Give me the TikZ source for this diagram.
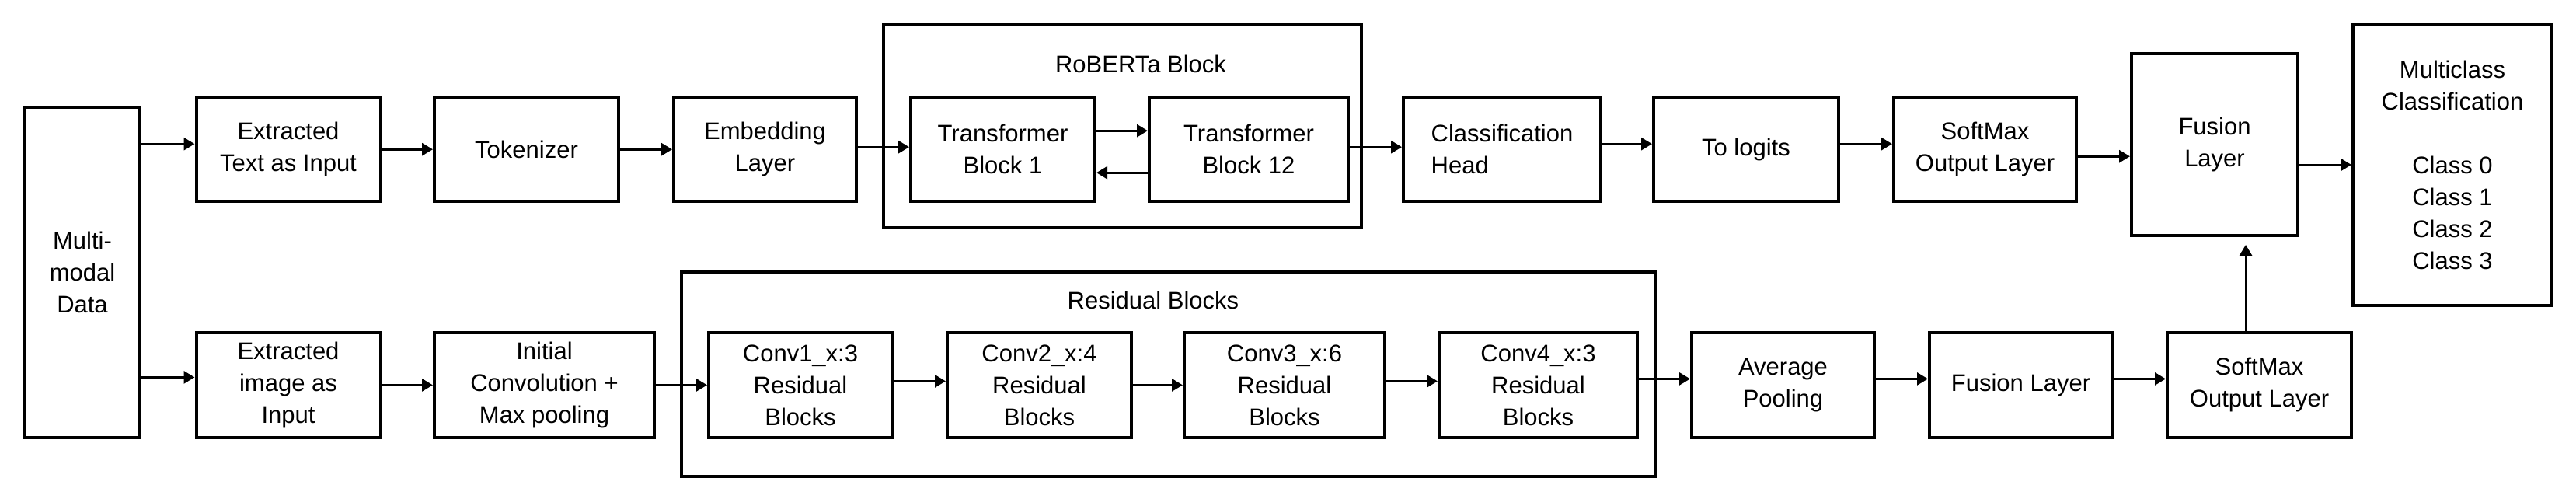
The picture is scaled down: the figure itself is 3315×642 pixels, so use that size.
\documentclass[tikz,border=0pt]{standalone}
\usepackage{fontspec}
\setmainfont{Liberation Sans}
\usetikzlibrary{arrows.meta}

\begin{document}
\begin{tikzpicture}
  [x=1pt, y=-1pt,
  box/.style={draw, line width=4pt, align=center, inner sep=0pt,
    minimum height=133pt, font=\fontsize{31}{41}\selectfont},
  group/.style={draw, line width=4pt, inner sep=0pt},
  lbl/.style={font=\fontsize{31}{41}\selectfont},
  arr/.style={-{Triangle[length=14pt,width=16pt]}, line width=3pt}]
  \useasboundingbox (0,0) rectangle (3315,642);
  % group frames
  \node[group, minimum width=615pt, minimum height=262pt] (roberta) at (1444,162) {};
  \node[lbl] (roblbl) at (1468,82) {RoBERTa Block};
  \node[group, minimum width=1253pt, minimum height=263pt] (resid) at (1503.5,481.5) {};
  \node[lbl] (reslbl) at (1484,386) {Residual Blocks};
  % input
  \node[box, minimum width=148pt, minimum height=425pt] (data) at (106,350.5) {Multi-\\modal\\Data};
  % text branch
  \node[box, minimum width=237pt] (txtin) at (371,192.2) {Extracted\\Text as Input};
  \node[box, minimum width=237pt] (tok) at (677.5,192.2) {Tokenizer};
  \node[box, minimum width=235pt] (emb) at (984.5,192.2) {Embedding\\Layer};
  \node[box, minimum width=237pt] (tb1) at (1290.5,192.2) {Transformer\\Block 1};
  \node[box, minimum width=256pt] (tb12) at (1607,192.2) {Transformer\\Block 12};
  \node[box, minimum width=254pt, align=left] (head) at (1933,192.2) {Classification\\Head};
  \node[box, minimum width=238pt] (logit) at (2247,192.2) {To logits};
  \node[box, minimum width=235pt] (smtxt) at (2554.5,192.2) {SoftMax\\Output Layer};
  \node[box, minimum width=214pt, minimum height=234pt] (fuse) at (2850,186) {Fusion\\Layer};
  \node[box, minimum width=256pt, minimum height=362pt] (multi) at (3156,212)
    {Multiclass\\Classification\\[41pt]Class 0\\Class 1\\Class 2\\Class 3};
  % image branch
  \node[box, minimum width=237pt, minimum height=135pt] (imgin) at (371,495.4) {Extracted\\image as\\Input};
  \node[box, minimum width=283pt, minimum height=135pt] (conv) at (700.5,495.4) {Initial\\Convolution +\\Max pooling};
  \node[box, minimum width=236pt, minimum height=135pt] (c1) at (1030,495.4) {Conv1\_x:3\\Residual\\Blocks};
  \node[box, minimum width=237pt, minimum height=135pt] (c2) at (1337.5,495.4) {Conv2\_x:4\\Residual\\Blocks};
  \node[box, minimum width=258pt, minimum height=135pt] (c3) at (1653,495.4) {Conv3\_x:6\\Residual\\Blocks};
  \node[box, minimum width=255pt, minimum height=135pt] (c4) at (1979.5,495.4) {Conv4\_x:3\\Residual\\Blocks};
  \node[box, minimum width=235pt, minimum height=135pt] (avg) at (2294.5,495.4) {Average\\Pooling};
  \node[box, minimum width=235pt, minimum height=135pt] (fusimg) at (2600.5,495.4) {Fusion Layer};
  \node[box, minimum width=237pt, minimum height=135pt] (smimg) at (2907.5,495.4) {SoftMax\\Output Layer};
  % arrows
  \draw[arr] ([yshift=7pt]data.east |- txtin.west) -- ([yshift=7pt]txtin.west);
  \draw[arr] ([yshift=10pt]data.east |- imgin.west) -- ([yshift=10pt]imgin.west);
  \draw[arr] (txtin) -- (tok);
  \draw[arr] (tok) -- (emb);
  \draw[arr] ([yshift=3pt]emb.east) -- ([yshift=3pt]tb1.west);
  \draw[arr] ([yshift=24pt]tb1.east) -- ([yshift=24pt]tb12.west);
  \draw[arr] ([yshift=-30pt]tb12.west) -- ([yshift=-30pt]tb1.east);
  \draw[arr] ([yshift=3pt]tb12.east) -- ([yshift=3pt]head.west);
  \draw[arr] ([yshift=7pt]head.east) -- ([yshift=7pt]logit.west);
  \draw[arr] ([yshift=7pt]logit.east) -- ([yshift=7pt]smtxt.west);
  \draw[arr] ([yshift=-9pt]smtxt.east) -- ([yshift=-9pt]smtxt.east -| fuse.west);
  \draw[arr] (fuse.east |- multi.west) -- (multi.west);
  \draw[arr] (imgin) -- (conv);
  \draw[arr] (conv) -- (c1);
  \draw[arr] ([yshift=5pt]c1.east) -- ([yshift=5pt]c2.west);
  \draw[arr] (c2) -- (c3);
  \draw[arr] ([yshift=5pt]c3.east) -- ([yshift=5pt]c4.west);
  \draw[arr] ([yshift=8pt]c4.east) -- ([yshift=8pt]avg.west);
  \draw[arr] ([yshift=8pt]avg.east) -- ([yshift=8pt]fusimg.west);
  \draw[arr] ([yshift=8pt]fusimg.east) -- ([yshift=8pt]smimg.west);
  \draw[arr, shorten >=10pt] ([xshift=-17.5pt]smimg.north) -- ([xshift=-17.5pt]smimg.north |- fuse.south);
\end{tikzpicture}
\end{document}
